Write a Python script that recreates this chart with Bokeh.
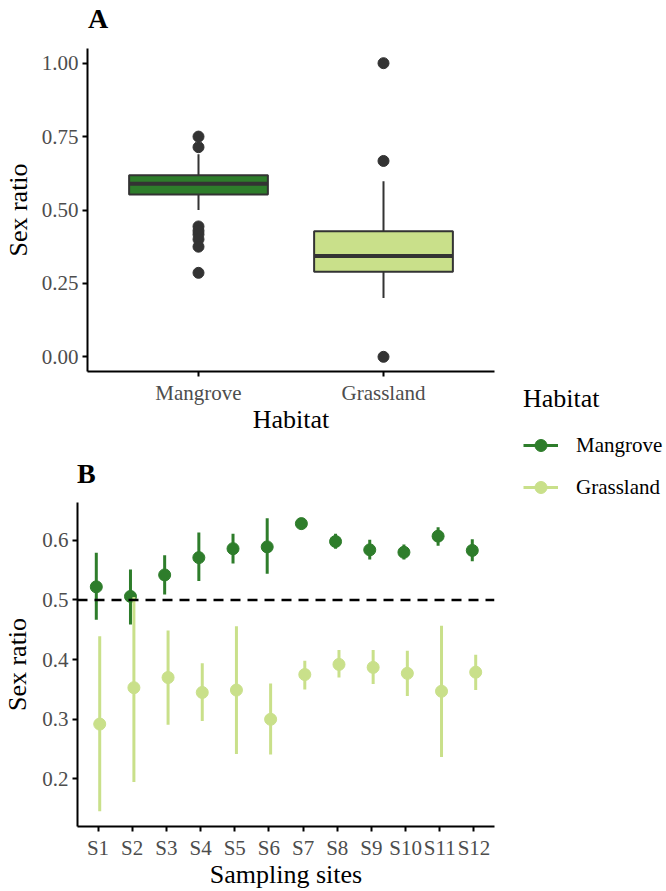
from bokeh.plotting import figure
from bokeh.models import (ColumnDataSource, FactorRange, Range1d, FixedTicker,
                          NumeralTickFormatter, Span, Legend, LegendItem, Div)
from bokeh.transform import dodge
from bokeh.layouts import row, column
from bokeh.embed import file_html
from bokeh.resources import INLINE

# ---------------- data ----------------
habitats = ["Mangrove", "Grassland"]
box_q1 = [0.553, 0.290]
box_median = [0.589, 0.343]
box_q3 = [0.618, 0.428]
whisker_low = [0.500, 0.200]
whisker_high = [0.690, 0.598]
mangrove_outliers = [0.750, 0.714, 0.444, 0.429, 0.417, 0.400, 0.375, 0.286]
grassland_outliers = [1.000, 0.667, 0.000]

sites = ["S1", "S2", "S3", "S4", "S5", "S6", "S7", "S8", "S9", "S10", "S11", "S12"]
mangrove_mean = [0.522, 0.506, 0.542, 0.571, 0.586, 0.589, 0.628, 0.598, 0.584, 0.580, 0.607, 0.583]
mangrove_low = [0.467, 0.459, 0.509, 0.532, 0.561, 0.544, 0.618, 0.586, 0.568, 0.568, 0.591, 0.565]
mangrove_high = [0.579, 0.551, 0.575, 0.613, 0.611, 0.637, 0.635, 0.611, 0.601, 0.593, 0.622, 0.602]
grassland_mean = [0.292, 0.353, 0.370, 0.345, 0.349, 0.300, 0.375, 0.392, 0.387, 0.377, 0.347, 0.379]
grassland_low = [0.146, 0.195, 0.291, 0.297, 0.242, 0.241, 0.350, 0.370, 0.359, 0.339, 0.237, 0.349]
grassland_high = [0.439, 0.505, 0.449, 0.394, 0.456, 0.360, 0.398, 0.416, 0.416, 0.415, 0.457, 0.408]

A_ticks = [0.0, 0.25, 0.5, 0.75, 1.0]
B_ticks = [0.2, 0.3, 0.4, 0.5, 0.6]

# ---------------- style ----------------
C_MAN = "#2E7D2B"
C_GRA = "#C9E08A"
BOX_LINE = "#333333"
FONT = "Liberation Serif"
TICK_COL = "#4D4D4D"


def style(p):
    p.outline_line_color = None
    p.grid.visible = False
    p.background_fill_color = "white"
    p.border_fill_color = "white"
    for ax in p.axis:
        ax.axis_line_color = "black"
        ax.axis_line_width = 2
        ax.major_tick_line_color = "black"
        ax.major_tick_line_width = 2
        ax.major_tick_out = 5
        ax.major_tick_in = 0
        ax.minor_tick_out = 0
        ax.minor_tick_in = 0
        ax.major_label_text_font = FONT
        ax.major_label_text_font_size = "21px"
        ax.major_label_text_color = TICK_COL
        ax.major_label_standoff = 4
        ax.axis_label_text_font = FONT
        ax.axis_label_text_font_size = "26px"
        ax.axis_label_text_font_style = "normal"
        ax.axis_label_text_color = "black"
        ax.axis_label_standoff = 4
    p.xaxis.axis_label_standoff = -3


def tag(text, height, pad_left, pad_top):
    html = ("<div style=\"font-family:'Liberation Serif';font-size:28px;font-weight:bold;"
            "line-height:28px;color:black;padding-left:%dpx;padding-top:%dpx;margin:0\">%s</div>"
            % (pad_left, pad_top, text))
    return Div(text=html, width=505, height=height, margin=0)


# ---------------- panel A ----------------
pA = figure(width=505, height=405, output_backend="svg", toolbar_location=None,
            x_range=FactorRange(*habitats, range_padding=0.1, range_padding_units="absolute"),
            y_range=Range1d(-0.05, 1.05),
            min_border_left=87, min_border_right=11, min_border_top=8, min_border_bottom=74)
style(pA)
pA.xaxis.axis_label = "Habitat"
pA.yaxis.axis_label = "Sex ratio"
pA.yaxis.axis_label_standoff = 6
pA.yaxis.ticker = FixedTicker(ticks=A_ticks)
pA.yaxis.formatter = NumeralTickFormatter(format="0.00")

box_src = ColumnDataSource(dict(hab=habitats, q1=box_q1, med=box_median, q3=box_q3,
                                lo=whisker_low, hi=whisker_high, col=[C_MAN, C_GRA]))
pA.segment(x0="hab", y0="q3", x1="hab", y1="hi", source=box_src, line_color=BOX_LINE, line_width=2)
pA.segment(x0="hab", y0="q1", x1="hab", y1="lo", source=box_src, line_color=BOX_LINE, line_width=2)
pA.vbar(x="hab", top="q3", bottom="q1", width=0.75, source=box_src,
        fill_color="col", line_color=BOX_LINE, line_width=2)
pA.segment(x0=dodge("hab", -0.375, range=pA.x_range), y0="med",
           x1=dodge("hab", 0.375, range=pA.x_range), y1="med",
           source=box_src, line_color=BOX_LINE, line_width=4)
out_x = ["Mangrove"] * len(mangrove_outliers) + ["Grassland"] * len(grassland_outliers)
out_y = mangrove_outliers + grassland_outliers
pA.scatter(x=out_x, y=out_y, size=11, fill_color=BOX_LINE, line_color=BOX_LINE)

# ---------------- panel B ----------------
pB = figure(width=505, height=396, output_backend="svg", toolbar_location=None,
            x_range=FactorRange(*sites, range_padding=0.1, range_padding_units="absolute"),
            y_range=Range1d(0.1203, 0.6634),
            min_border_left=76, min_border_right=11, min_border_top=7, min_border_bottom=65)
style(pB)
pB.xaxis.axis_label = "Sampling sites"
pB.yaxis.axis_label = "Sex ratio"
pB.yaxis.axis_label_standoff = 7
pB.yaxis.ticker = FixedTicker(ticks=B_ticks)
pB.yaxis.formatter = NumeralTickFormatter(format="0.0")

man_src = ColumnDataSource(dict(site=sites, m=mangrove_mean, lo=mangrove_low, hi=mangrove_high))
gra_src = ColumnDataSource(dict(site=sites, m=grassland_mean, lo=grassland_low, hi=grassland_high))
for src, col, off in ((man_src, C_MAN, -0.05), (gra_src, C_GRA, 0.05)):
    xd = dodge("site", off, range=pB.x_range)
    pB.segment(x0=xd, y0="lo", x1=xd, y1="hi", source=src, line_color=col, line_width=3)
    pB.scatter(x=xd, y="m", source=src, size=12, fill_color=col, line_color=col)

pB.add_layout(Span(location=0.5, dimension="width", line_color="black",
                   line_width=2.5, line_dash="10 7"))

# ---------------- legend (separate panel; its glyphs lie outside its visible ranges) ----
pL = figure(width=161, height=891, output_backend="svg", toolbar_location=None,
            x_range=Range1d(5, 6), y_range=Range1d(5, 6),
            x_axis_location=None, y_axis_location=None, min_border=0)
pL.outline_line_color = None
pL.grid.visible = False
lm = pL.line(x=mangrove_mean, y=mangrove_mean, line_color=C_MAN, line_width=3)
sm = pL.scatter(x=mangrove_mean, y=mangrove_mean, size=11, fill_color=C_MAN, line_color=C_MAN)
lg = pL.line(x=grassland_mean, y=grassland_mean, line_color=C_GRA, line_width=3)
sg = pL.scatter(x=grassland_mean, y=grassland_mean, size=11, fill_color=C_GRA, line_color=C_GRA)
legend = Legend(items=[LegendItem(label="Mangrove", renderers=[lm, sm]),
                       LegendItem(label="Grassland", renderers=[lg, sg])],
                title="Habitat", location=(18, 389))
legend.title_text_font = FONT
legend.title_text_font_size = "26px"
legend.title_text_font_style = "normal"
legend.title_text_color = "black"
legend.title_standoff = 16
legend.label_text_font = FONT
legend.label_text_font_size = "21px"
legend.label_text_color = "black"
legend.glyph_width = 35
legend.glyph_height = 30
legend.label_height = 30
legend.label_standoff = 18
legend.spacing = 12
legend.padding = 0
legend.margin = 0
legend.border_line_color = None
legend.background_fill_alpha = 0
pL.add_layout(legend)

left = column(tag("A", 40, 88, 5), row(pA), tag("B", 50, 77, 15), row(pB))
layout = row(left, pL)
open("out.html", "w").write(file_html(layout, INLINE))
